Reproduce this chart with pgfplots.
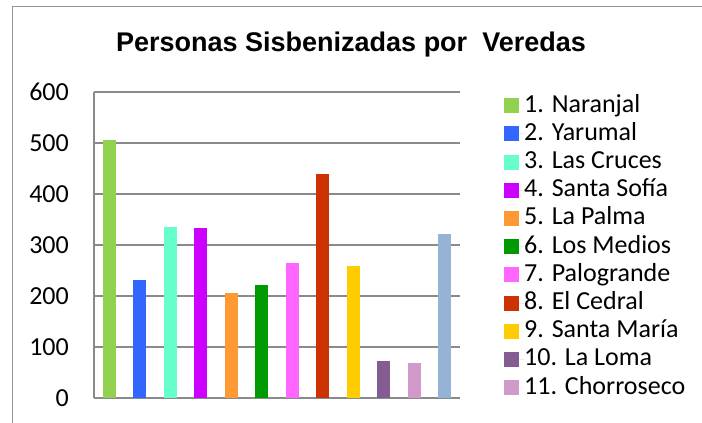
\documentclass[border=0pt]{standalone}
\usepackage{fontspec}
\setmainfont{Carlito}
\newfontfamily\titlefont{Liberation Sans}
\usepackage{pgfplots}
\pgfplotsset{compat=1.18}
\definecolor{gridgray}{HTML}{8A8A8A}
\definecolor{c1}{HTML}{92D050}
\definecolor{c2}{HTML}{3366FF}
\definecolor{c3}{HTML}{66FFCC}
\definecolor{c4}{HTML}{CC00FF}
\definecolor{c5}{HTML}{FF9933}
\definecolor{c6}{HTML}{009900}
\definecolor{c7}{HTML}{FF66FF}
\definecolor{c8}{HTML}{CC3300}
\definecolor{c9}{HTML}{FFCC00}
\definecolor{c10}{HTML}{845C92}
\definecolor{c11}{HTML}{D099CA}
\definecolor{c12}{HTML}{95B3D7}
\pgfplotsset{
  mybar/.style={ybar, bar width=13pt, bar shift=0pt, draw=none, fill=#1,
    legend image code/.code={\fill[##1] (0pt,-7.5pt) rectangle (15pt,7.5pt);
      \path (0pt,0pt) -- (20pt,0pt);}},
}
\begin{document}
\begin{tikzpicture}
\useasboundingbox (0pt,0pt) rectangle (702pt,423pt);
\draw[gridgray!90, line width=1pt] (12pt,0pt) -- (12pt,416pt) -- (702pt,416pt);
\node[anchor=base, font=\titlefont\bfseries\fontsize{27}{32}\selectfont] at (351pt,371pt) {Personas Sisbenizadas por\ \ Veredas};
\begin{axis}[
  at={(94pt,25pt)}, anchor=south west,
  scale only axis, width=366pt, height=306pt,
  xmin=-0.5, xmax=11.5, ymin=0, ymax=600,
  ytick={0,100,...,600}, xtick=\empty,
  ymajorgrids, grid style={gridgray, line width=1.5pt},
  axis x line*=bottom, axis y line*=left,
  axis line style={gridgray, line width=1.5pt, -},
  major tick length=0pt,
  /pgf/number format/assume math mode=true,
  yticklabel style={font=\fontsize{26}{31}\selectfont, inner sep=0pt, xshift=-25pt},
  clip=false,
  legend cell align=left,
  legend style={at={(1.1203,0.9935)}, anchor=north west, draw=none, fill=none,
    inner sep=0pt, font=\fontsize{26}{31}\selectfont, row sep=5.2pt,
    nodes={inner sep=0pt, text height=18pt, text depth=5pt}},
]
\addplot[mybar=c1] coordinates {(0,505)};
\addlegendentry{1. Naranjal}
\addplot[mybar=c2] coordinates {(1,232)};
\addlegendentry{2. Yarumal}
\addplot[mybar=c3] coordinates {(2,335)};
\addlegendentry{3. Las Cruces}
\addplot[mybar=c4] coordinates {(3,333)};
\addlegendentry{4. Santa Sofía}
\addplot[mybar=c5] coordinates {(4,206)};
\addlegendentry{5. La Palma}
\addplot[mybar=c6] coordinates {(5,222)};
\addlegendentry{6. Los Medios}
\addplot[mybar=c7] coordinates {(6,265)};
\addlegendentry{7. Palogrande}
\addplot[mybar=c8] coordinates {(7,439)};
\addlegendentry{8. El Cedral}
\addplot[mybar=c9] coordinates {(8,259)};
\addlegendentry{9. Santa María}
\addplot[mybar=c10] coordinates {(9,73)};
\addlegendentry{10. La Loma}
\addplot[mybar=c11] coordinates {(10,69)};
\addlegendentry{11. Chorroseco}
\addplot[mybar=c12, forget plot] coordinates {(11,322)};
\end{axis}
\end{tikzpicture}
\end{document}
